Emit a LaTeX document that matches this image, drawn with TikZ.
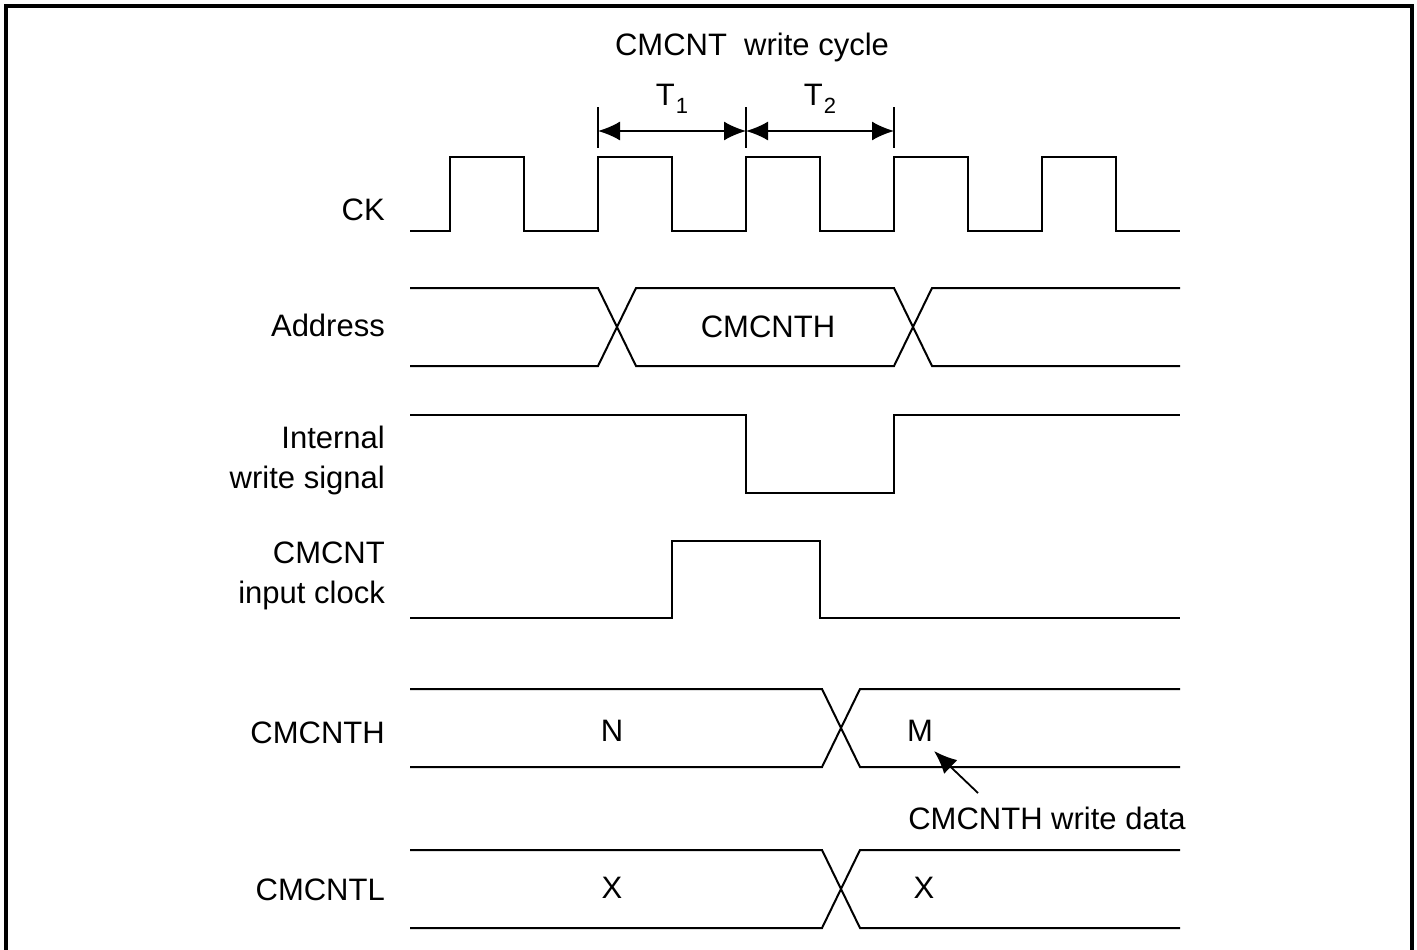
\documentclass[tikz,border=0pt]{standalone}
\usepackage{fontspec}
\setmainfont{Liberation Sans}
\usetikzlibrary{arrows.meta}
\begin{document}
\begin{tikzpicture}[x=1pt,y=-1pt,
  sig/.style={line width=2pt, line join=miter},
  lbl/.style={anchor=east, align=right, inner sep=0pt, font=\fontsize{31}{40}\selectfont},
  txt/.style={inner sep=0pt, font=\fontsize{31}{40}\selectfont},
  tick/.style={line width=1.6pt},
  dim/.style={line width=1.8pt, {Latex[length=22pt,width=19pt]}-{Latex[length=22pt,width=19pt]}},
  ann/.style={line width=1.8pt, -{Latex[length=23pt,width=19pt]}},
]
\useasboundingbox (0,0) rectangle (1417,950);
\draw[line width=3.5pt] (6,960) -- (6,6) -- (1412,6) -- (1412,960);

% title and dimensions
\node[txt] (title) at (752,47) {CMCNT\ \ write cycle};
\coordinate (a0) at (598,131);
\coordinate (a1) at (746,131);
\coordinate (a2) at (894,131);
\foreach \x in {598,746,894} \draw[tick] (\x,107) -- (\x,148);
\draw[dim] (a0) -- (a1);
\draw[dim] (a1) -- (a2);
\node[txt, anchor=base] (t1) at (672,106) {T\kern1pt\raisebox{-8pt}{\fontsize{22}{22}\selectfont 1}};
\node[txt, anchor=base] (t2) at (820,106) {T\kern1pt\raisebox{-8pt}{\fontsize{22}{22}\selectfont 2}};

% labels
\node[lbl] (lck) at (385,210) {CK};
\node[lbl] (laddr) at (385,325) {Address};
\node[lbl] (lws) at (385,460) {Internal\\write signal};
\node[lbl] (lic) at (385,576) {CMCNT\\input clock};
\node[lbl] (lh) at (385,733) {CMCNTH};
\node[lbl] (ll) at (385,890) {CMCNTL};

% CK
\draw[sig] (410,231) -- (450,231) -- (450,157) -- (524,157) -- (524,231)
  -- (598,231) -- (598,157) -- (672,157) -- (672,231)
  -- (746,231) -- (746,157) -- (820,157) -- (820,231)
  -- (894,231) -- (894,157) -- (968,157) -- (968,231)
  -- (1042,231) -- (1042,157) -- (1116,157) -- (1116,231) -- (1180,231);

% Address
\draw[sig] (410,288) -- (598,288) -- (636,366) -- (894,366) -- (932,288) -- (1180,288);
\draw[sig] (410,366) -- (598,366) -- (636,288) -- (894,288) -- (932,366) -- (1180,366);
\node[txt] (addrv) at (768,327) {CMCNTH};

% Internal write signal
\draw[sig] (410,415) -- (746,415) -- (746,493) -- (894,493) -- (894,415) -- (1180,415);

% CMCNT input clock
\draw[sig] (410,618) -- (672,618) -- (672,541) -- (820,541) -- (820,618) -- (1180,618);

% CMCNTH
\draw[sig] (410,689) -- (822,689) -- (860,767) -- (1180,767);
\draw[sig] (410,767) -- (822,767) -- (860,689) -- (1180,689);
\node[txt] (hn) at (612,731) {N};
\node[txt] (hm) at (920,731) {M};

% CMCNTL
\draw[sig] (410,850) -- (822,850) -- (860,928) -- (1180,928);
\draw[sig] (410,928) -- (822,928) -- (860,850) -- (1180,850);
\node[txt] (lx1) at (612,888) {X};
\node[txt] (lx2) at (924,888) {X};

% annotation
\node[txt] (wd) at (1047,818) {CMCNTH write data};
\coordinate (wdtail) at (978,793);
\coordinate (wdhead) at (934,751);
\draw[ann] (wdtail) -- (wdhead);
\end{tikzpicture}
\end{document}
